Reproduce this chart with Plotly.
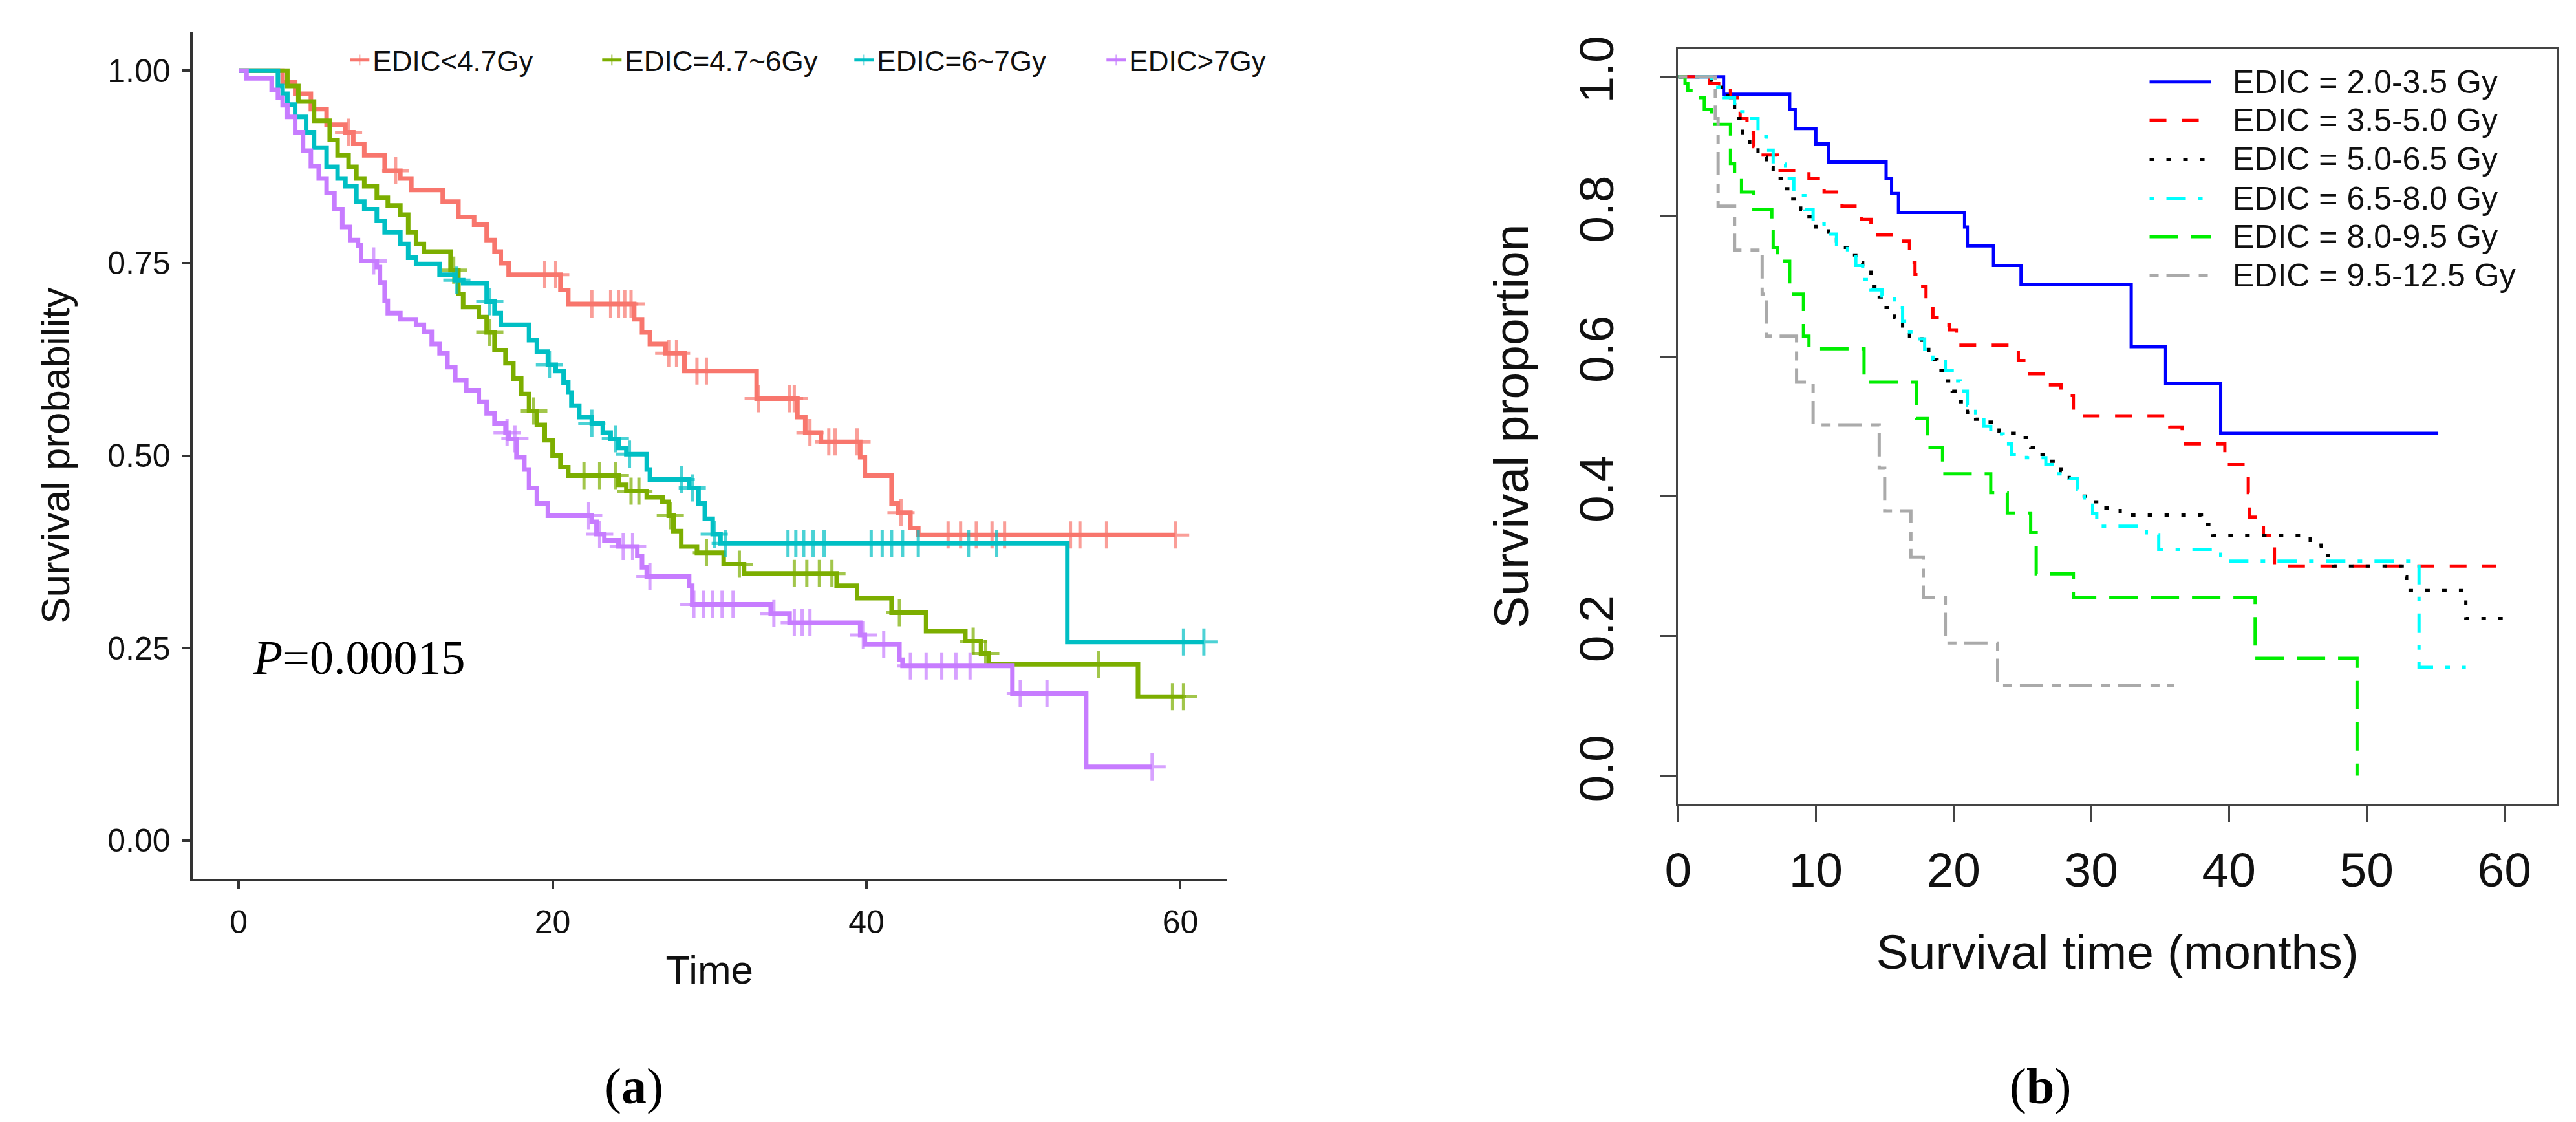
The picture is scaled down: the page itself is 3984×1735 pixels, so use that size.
import numpy as np
import plotly.graph_objects as go

W, H = 3984, 1735
SANS = "Liberation Sans, Arial, sans-serif"
SERIF = "Liberation Serif, Times New Roman, serif"

# ---------------- Panel (a): survminer-style KM curves ----------------
A_LABELS = ["EDIC<4.7Gy", "EDIC=4.7~6Gy", "EDIC=6~7Gy", "EDIC>7Gy"]
A_COLORS = ["#F8766D", "#7CAE00", "#00BFC4", "#C77CFF"]

a1_time = [0, 2.8, 3.6, 4.6, 5.6, 6.8, 7.3, 8.0, 9.3, 10.3, 11.0, 13.0, 14.0, 15.0, 15.8, 16.3, 16.7,
           17.2, 20.5, 21.0, 25.2, 25.7, 26.2, 27.2, 28.4, 33.0, 35.6, 36.1, 37.1, 39.6, 39.9, 41.6,
           42.0, 42.8, 43.3]
a1_surv = [1.0, 0.985, 0.97, 0.95, 0.93, 0.92, 0.905, 0.89, 0.87, 0.86, 0.845, 0.83, 0.81, 0.80, 0.78,
           0.765, 0.75, 0.735, 0.715, 0.697, 0.677, 0.66, 0.645, 0.633, 0.61, 0.574, 0.55, 0.53, 0.518,
           0.498, 0.474, 0.438, 0.426, 0.406, 0.397]
a1_cens = [7.0, 10.0, 19.5, 20.2, 22.5, 23.7, 24.2, 24.6, 25.0, 27.4, 27.9, 29.2, 29.8, 33.1, 35.1,
           35.4, 36.4, 37.6, 38.0, 39.4, 42.2, 45.2, 46.0, 47.0, 48.0, 48.8, 53.0, 53.6, 55.3, 59.7]

a2_time = [0, 3.1, 3.8, 4.8, 5.8, 6.3, 7.0, 7.5, 8.0, 8.8, 9.5, 10.3, 10.8, 11.3, 11.8, 13.5, 14.0,
           14.3, 15.3, 15.8, 16.3, 17.0, 17.5, 18.0, 18.5, 19.0, 19.5, 20.0, 20.5, 21.0, 24.2, 24.7,
           26.0, 27.0, 27.4, 27.7, 28.2, 29.2, 30.9, 32.2, 38.1, 39.4, 41.6, 43.8, 46.3, 47.3, 47.8, 57.3]
a2_surv = [1.0, 0.98, 0.96, 0.935, 0.91, 0.89, 0.875, 0.86, 0.85, 0.835, 0.825, 0.813, 0.79, 0.775,
           0.765, 0.741, 0.71, 0.693, 0.68, 0.66, 0.637, 0.62, 0.60, 0.58, 0.558, 0.54, 0.52, 0.50,
           0.485, 0.474, 0.462, 0.454, 0.446, 0.44, 0.422, 0.402, 0.382, 0.374, 0.359, 0.347, 0.331,
           0.315, 0.296, 0.272, 0.259, 0.243, 0.229, 0.187]
a2_cens = [13.7, 16.0, 18.8, 22.0, 23.0, 24.0, 25.0, 25.5, 27.5, 29.8, 31.9, 35.4, 36.2, 37.0, 37.8,
           42.1, 46.8, 47.6, 54.8, 59.5, 60.2]

a3_time = [0, 2.5, 2.8, 3.1, 3.6, 4.3, 4.8, 5.6, 6.3, 6.8, 7.5, 8.0, 8.8, 9.3, 10.3, 10.8, 11.3, 12.8,
           13.8, 14.3, 15.8, 16.3, 16.7, 18.5, 19.0, 19.7, 20.2, 20.7, 21.0, 21.2, 21.7, 22.5, 23.2,
           23.7, 24.2, 24.7, 26.0, 26.2, 28.7, 29.3, 29.7, 30.2, 30.7, 52.8]
a3_surv = [1.0, 0.98, 0.97, 0.956, 0.94, 0.92, 0.90, 0.875, 0.86, 0.85, 0.83, 0.82, 0.805, 0.79, 0.775,
           0.757, 0.749, 0.735, 0.728, 0.724, 0.70, 0.685, 0.67, 0.65, 0.635, 0.618, 0.61, 0.595,
           0.582, 0.565, 0.55, 0.542, 0.53, 0.522, 0.51, 0.502, 0.482, 0.469, 0.458, 0.438, 0.418,
           0.398, 0.386, 0.258]
a3_cens = [13.9, 16.0, 19.8, 22.5, 24.0, 24.9, 28.2, 28.9, 30.3, 31.0, 35.0, 35.5, 36.0, 36.6, 37.3,
           40.3, 41.0, 41.6, 42.3, 43.3, 46.5, 48.3, 60.2, 61.5]

a4_time = [0, 0.5, 2.1, 2.5, 2.8, 3.1, 3.6, 4.1, 4.6, 5.1, 5.6, 6.1, 6.6, 7.1, 7.6, 7.8, 8.8, 9.0, 9.3,
           9.5, 10.3, 11.3, 11.8, 12.3, 12.8, 13.3, 13.8, 14.5, 15.3, 15.8, 16.3, 17.0, 17.2, 17.7,
           18.2, 18.5, 19.0, 19.7, 22.5, 22.8, 23.3, 24.2, 25.4, 25.7, 26.0, 28.7, 28.9, 33.9, 35.1,
           39.6, 39.9, 42.1, 42.3, 49.3, 54.0]
a4_surv = [1.0, 0.99, 0.975, 0.965, 0.955, 0.94, 0.92, 0.896, 0.876, 0.86, 0.841, 0.82, 0.797, 0.78,
           0.773, 0.753, 0.745, 0.725, 0.701, 0.685, 0.677, 0.67, 0.661, 0.645, 0.633, 0.615, 0.598,
           0.585, 0.57, 0.555, 0.542, 0.53, 0.522, 0.498, 0.482, 0.458, 0.438, 0.422, 0.414, 0.398,
           0.39, 0.382, 0.37, 0.355, 0.343, 0.331, 0.307, 0.295, 0.283, 0.267, 0.255, 0.235, 0.227,
           0.191, 0.096]
a4_cens = [8.6, 17.1, 17.6, 22.3, 23.0, 24.5, 25.1, 26.2, 29.0, 29.6, 30.2, 30.8, 31.5, 34.1, 35.4,
           35.9, 36.4, 39.8, 41.1, 42.8, 43.8, 44.8, 45.7, 46.6, 49.8, 51.5, 58.2]

A_TIMES = [a1_time, a2_time, a3_time, a4_time]
A_SURVS = [a1_surv, a2_surv, a3_surv, a4_surv]
A_CENS = [a1_cens, a2_cens, a3_cens, a4_cens]

A_XTICKS = [0, 20, 40, 60]
A_YTICKS = [0.0, 0.25, 0.50, 0.75, 1.00]
P_LABEL = "<i>P</i>=0.00015"

# ---------------- Panel (b): base-R KM curves ----------------
B_LABELS = ["EDIC = 2.0-3.5 Gy", "EDIC = 3.5-5.0 Gy", "EDIC = 5.0-6.5 Gy",
            "EDIC = 6.5-8.0 Gy", "EDIC = 8.0-9.5 Gy", "EDIC = 9.5-12.5 Gy"]
B_COLORS = ["#0000FF", "#FF0000", "#000000", "#00FFFF", "#00EE00", "#AAAAAA"]
B_DASHES = ["solid", "26px,24px", "7px,19px", "7px,19px,30px,19px", "44px,20px",
            "14px,12px,36px,14px"]

b1_time = [0, 3.3, 8.1, 8.5, 10.0, 10.9, 15.1, 15.5, 16.0, 20.8, 21.0, 22.9, 24.9, 32.9, 35.4,
           39.4, 55.2]
b1_surv = [1.0, 0.975, 0.953, 0.926, 0.904, 0.878, 0.855, 0.833, 0.806, 0.785, 0.758, 0.73, 0.703,
           0.614, 0.561, 0.49, 0.49]

b2_time = [0, 2.3, 3.8, 4.5, 5.0, 5.5, 6.0, 7.2, 9.5, 10.6, 11.9, 13.3, 14.0, 16.0, 16.8, 17.2,
           17.5, 18.0, 18.5, 19.2, 19.7, 20.2, 24.7, 25.3, 26.8, 27.8, 28.7, 35.7, 36.6, 39.7, 41.4,
           41.5, 42.5, 43.3, 59.4]
b2_surv = [1.0, 0.99, 0.97, 0.94, 0.92, 0.90, 0.888, 0.866, 0.855, 0.835, 0.815, 0.796, 0.774, 0.765,
           0.734, 0.717, 0.70, 0.673, 0.655, 0.645, 0.638, 0.616, 0.594, 0.575, 0.559, 0.544, 0.515,
           0.499, 0.475, 0.445, 0.405, 0.37, 0.344, 0.30, 0.30]

b3_time = [0, 2.4, 3.6, 4.1, 4.7, 5.2, 5.8, 6.4, 6.9, 7.5, 8.1, 8.9, 9.5, 10.0, 10.9, 11.5, 12.3,
           12.9, 13.4, 14.0, 14.6, 15.1, 15.7, 16.3, 16.8, 17.7, 18.2, 18.8, 19.4, 19.9, 20.5, 21.0,
           21.6, 22.5, 23.3, 24.4, 25.6, 26.1, 27.0, 27.8, 28.4, 29.0, 29.8, 30.9, 32.1, 38.0, 38.8,
           45.9, 46.7, 47.6, 52.7, 52.9, 57.2, 60.6]
b3_surv = [1.0, 0.985, 0.96, 0.94, 0.92, 0.90, 0.885, 0.87, 0.855, 0.84, 0.825, 0.81, 0.80, 0.785,
           0.77, 0.756, 0.745, 0.734, 0.725, 0.70, 0.685, 0.67, 0.655, 0.64, 0.625, 0.61, 0.595,
           0.58, 0.565, 0.55, 0.535, 0.52, 0.51, 0.506, 0.49, 0.484, 0.47, 0.46, 0.45, 0.436, 0.42,
           0.40, 0.392, 0.383, 0.373, 0.36, 0.344, 0.33, 0.315, 0.30, 0.285, 0.265, 0.225, 0.225]

b4_time = [0, 2.4, 3.3, 4.1, 5.0, 5.8, 6.4, 6.9, 7.8, 8.4, 9.2, 9.8, 10.6, 11.5, 12.3, 12.9, 13.4,
           14.0, 14.8, 15.7, 16.3, 16.8, 17.4, 17.9, 18.5, 19.4, 19.9, 20.5, 21.0, 21.6, 22.2, 22.7,
           23.6, 24.2, 25.3, 26.7, 27.3, 28.4, 29.0, 29.5, 30.1, 30.4, 34.0, 34.9, 39.4, 53.8, 57.2]
b4_surv = [1.0, 0.985, 0.97, 0.95, 0.94, 0.915, 0.895, 0.875, 0.855, 0.83, 0.81, 0.79, 0.775, 0.76,
           0.745, 0.73, 0.71, 0.695, 0.686, 0.67, 0.65, 0.635, 0.625, 0.61, 0.595, 0.58, 0.565, 0.55,
           0.53, 0.515, 0.50, 0.489, 0.475, 0.46, 0.455, 0.445, 0.432, 0.425, 0.41, 0.39, 0.375,
           0.357, 0.345, 0.324, 0.307, 0.155, 0.155]

b5_time = [0, 0.5, 0.7, 1.6, 1.9, 2.4, 3.8, 4.1, 4.6, 5.5, 6.8, 6.9, 7.2, 8.1, 9.1, 9.5, 13.5, 17.3,
           18.1, 19.2, 22.7, 23.9, 25.6, 26.0, 28.7, 41.9, 49.3]
b5_surv = [1.0, 0.99, 0.98, 0.97, 0.953, 0.932, 0.876, 0.86, 0.835, 0.81, 0.787, 0.756, 0.736, 0.689,
           0.629, 0.611, 0.563, 0.511, 0.47, 0.432, 0.405, 0.376, 0.348, 0.289, 0.255, 0.168, 0.0]

b6_time = [0, 2.7, 2.9, 4.1, 6.1, 6.4, 8.6, 9.8, 14.6, 15.0, 16.9, 17.8, 19.4, 23.2, 36.0]
b6_surv = [1.0, 0.94, 0.815, 0.752, 0.689, 0.629, 0.563, 0.502, 0.44, 0.379, 0.313, 0.255, 0.19,
           0.129, 0.129]

B_TIMES = [b1_time, b2_time, b3_time, b4_time, b5_time, b6_time]
B_SURVS = [b1_surv, b2_surv, b3_surv, b4_surv, b5_surv, b6_surv]

B_XTICKS = [0, 10, 20, 30, 40, 50, 60]
B_YTICKS = [0.0, 0.2, 0.4, 0.6, 0.8, 1.0]

CAPTIONS = ["(<b>a</b>)", "(<b>b</b>)"]


def km_with_censors(times, survs, cens):
    t = np.asarray(times, dtype=float)
    s = np.asarray(survs, dtype=float)
    pts = [(ti, si, 0) for ti, si in zip(t, s)]
    for c in cens:
        idx = int(np.searchsorted(t, c, side="right")) - 1
        pts.append((c, s[idx], 1))
    pts.sort(key=lambda p: (p[0], p[2]))
    xs = [p[0] for p in pts]
    ys = [p[1] for p in pts]
    flags = [p[2] for p in pts]
    return xs, ys, flags


fig = go.Figure()

# panel (a) traces
for lab, col, tt, ss, cc in zip(A_LABELS, A_COLORS, A_TIMES, A_SURVS, A_CENS):
    xs, ys, fl = km_with_censors(tt, ss, cc)
    fig.add_trace(go.Scatter(
        x=xs, y=ys, name=lab, mode="lines+markers",
        line=dict(shape="hv", color=col, width=7),
        marker=dict(symbol="cross-thin", size=[30 if f else 0 for f in fl],
                    color=col, line=dict(color=col, width=5)),
        xaxis="x", yaxis="y", legend="legend",
    ))

# panel (b) traces
for lab, col, dash, tt, ss in zip(B_LABELS, B_COLORS, B_DASHES, B_TIMES, B_SURVS):
    fig.add_trace(go.Scatter(
        x=tt, y=ss, name=lab, mode="lines",
        line=dict(shape="hv", color=col, width=5, dash=dash),
        xaxis="x2", yaxis="y2", showlegend=False,
    ))

# manual base-R style legend for panel (b) (long line samples)
leg_x0, leg_x1, leg_tx = 3313 / W, 3408 / W, 3440 / W
leg_rows = [100, 160, 221, 282, 342, 403]
shapes, annotations = [], []
for lab, col, dash, ry in zip(B_LABELS, B_COLORS, B_DASHES, leg_rows):
    yy = 1 - ry / H
    shapes.append(dict(type="line", xref="paper", yref="paper", x0=leg_x0, x1=leg_x1, y0=yy, y1=yy,
                       line=dict(color=col, width=5, dash=dash)))
    annotations.append(dict(text=lab, xref="paper", yref="paper", x=leg_tx, y=yy, xanchor="left",
                            yanchor="middle", showarrow=False,
                            font=dict(family=SANS, size=50, color="#111111")))

annotations.append(dict(text=P_LABEL, xref="paper", yref="paper", x=362 / W, y=1 - 1001 / H,
                        xanchor="left", yanchor="middle", showarrow=False,
                        font=dict(family=SERIF, size=74, color="#000000")))
for cap, cx in zip(CAPTIONS, [957, 3143]):
    annotations.append(dict(text=cap, xref="paper", yref="paper", x=cx / W, y=1 - 1671 / H,
                            xanchor="center", yanchor="middle", showarrow=False,
                            font=dict(family=SERIF, size=78, color="#000000")))

axis_a = dict(showgrid=False, zeroline=False, showline=True, linewidth=4, linecolor="#333333",
              ticks="outside", ticklen=12, tickwidth=4, tickcolor="#333333",
              tickfont=dict(family=SANS, size=50, color="#111111"))
axis_b = dict(showgrid=False, zeroline=False, showline=True, mirror=True, linewidth=3,
              linecolor="#444444", ticks="outside", ticklen=25, tickwidth=3, tickcolor="#444444",
              tickfont=dict(family=SANS, size=75, color="#111111"))

fig.update_layout(
    width=W, height=H, margin=dict(l=0, r=0, t=0, b=0),
    paper_bgcolor="white", plot_bgcolor="white",
    xaxis=dict(axis_a, domain=[270 / W, 1878 / W], range=[-2.95, 62.95], tickvals=A_XTICKS,
               anchor="y", ticklabelstandoff=8,
               title=dict(text="Time", font=dict(family=SANS, size=62, color="#111111"), standoff=25)),
    yaxis=dict(axis_a, domain=[1 - 1347 / H, 1 - 22 / H], range=[-0.05, 1.05], tickvals=A_YTICKS,
               ticktext=[f"{v:.2f}" for v in A_YTICKS], anchor="x", ticklabelstandoff=8,
               title=dict(text="Survival probability", font=dict(family=SANS, size=62, color="#111111"),
                          standoff=40)),
    xaxis2=dict(axis_b, domain=[2580 / W, 3946 / W], range=[0, 63.8], tickvals=B_XTICKS,
                anchor="y2", ticklabelstandoff=10,
                title=dict(text="Survival time (months)", font=dict(family=SANS, size=75, color="#111111"),
                           standoff=60)),
    yaxis2=dict(axis_b, domain=[1 - 1229 / H, 1 - 48 / H], range=[-0.04, 1.04], tickvals=B_YTICKS,
                ticktext=[f"{v:.1f}" for v in B_YTICKS], tickangle=-90, anchor="x2",
                ticklabelstandoff=42,
                title=dict(text="Survival proportion", font=dict(family=SANS, size=75, color="#111111"),
                           standoff=40)),
    legend=dict(orientation="h", x=510 / W, xanchor="left", y=1 - 66 / H, yanchor="middle",
                font=dict(family=SANS, size=44, color="#111111"), bgcolor="rgba(0,0,0,0)",
                itemsizing="constant", entrywidth=345, traceorder="normal"),
    shapes=shapes, annotations=annotations,
)

fig.write_html("out.html")
